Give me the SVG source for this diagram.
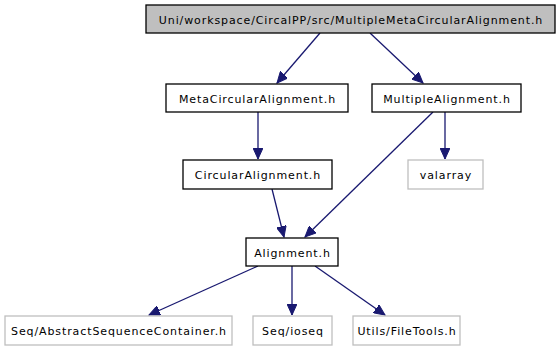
<svg xmlns="http://www.w3.org/2000/svg" width="560" height="349" viewBox="0 0 560 349">
  <style>
    .node rect { fill: #ffffff; stroke: #000000; stroke-width: 1.3; }
    .node.root rect { fill: #bfbfbf; }
    .node.ext rect { stroke: #bfbfbf; }
    .node text { font-family: "DejaVu Sans", "Liberation Sans", sans-serif; font-size: 11px; letter-spacing: 0.9px; fill: #000000; text-anchor: middle; }
    .edge { stroke: #191970; stroke-width: 1.3; fill: none; marker-end: url(#arrow); }
  </style>
  <defs>
    <marker id="arrow" markerUnits="userSpaceOnUse" markerWidth="12" markerHeight="10" refX="11" refY="5" orient="auto">
      <path d="M0,0 L11,5 L0,10 Z" fill="#191970" stroke="#191970" stroke-width="1"/>
    </marker>
  </defs>
  <rect width="560" height="349" fill="#ffffff"/>

  <g id="connectors">
    <line class="edge" x1="320" y1="33" x2="277" y2="83"/>
    <line class="edge" x1="370" y1="33" x2="423" y2="83"/>
    <line class="edge" x1="258" y1="112" x2="258" y2="159"/>
    <line class="edge" x1="445" y1="112" x2="445" y2="159"/>
    <line class="edge" x1="433" y1="112" x2="305" y2="237"/>
    <line class="edge" x1="272" y1="189" x2="284" y2="237"/>
    <line class="edge" x1="258" y1="266" x2="149" y2="315"/>
    <line class="edge" x1="292" y1="266" x2="292" y2="315"/>
    <line class="edge" x1="315" y1="266" x2="385" y2="315"/>
  </g>

  <g id="n_root" class="node root">
    <rect x="146" y="5" width="409" height="28"/>
    <text x="351" y="24">Uni/workspace/CircalPP/src/MultipleMetaCircularAlignment.h</text>
  </g>
  <g id="n_meta" class="node">
    <rect x="166" y="84" width="182" height="28"/>
    <text x="257.5" y="103">MetaCircularAlignment.h</text>
  </g>
  <g id="n_multiple" class="node">
    <rect x="372" y="84" width="149" height="28"/>
    <text x="447" y="103">MultipleAlignment.h</text>
  </g>
  <g id="n_circular" class="node">
    <rect x="183" y="160" width="149" height="29"/>
    <text x="258" y="179">CircularAlignment.h</text>
  </g>
  <g id="n_valarray" class="node ext">
    <rect x="408" y="160" width="75" height="29"/>
    <text x="446" y="179">valarray</text>
  </g>
  <g id="n_alignment" class="node">
    <rect x="246" y="238" width="92" height="28"/>
    <text x="292.5" y="257">Alignment.h</text>
  </g>
  <g id="n_abstract" class="node ext">
    <rect x="5" y="316" width="227" height="29"/>
    <text x="119" y="335">Seq/AbstractSequenceContainer.h</text>
  </g>
  <g id="n_ioseq" class="node ext">
    <rect x="253" y="316" width="79" height="29"/>
    <text x="293" y="335">Seq/ioseq</text>
  </g>
  <g id="n_filetools" class="node ext">
    <rect x="353" y="316" width="107" height="29"/>
    <text x="407" y="335">Utils/FileTools.h</text>
  </g>
</svg>
